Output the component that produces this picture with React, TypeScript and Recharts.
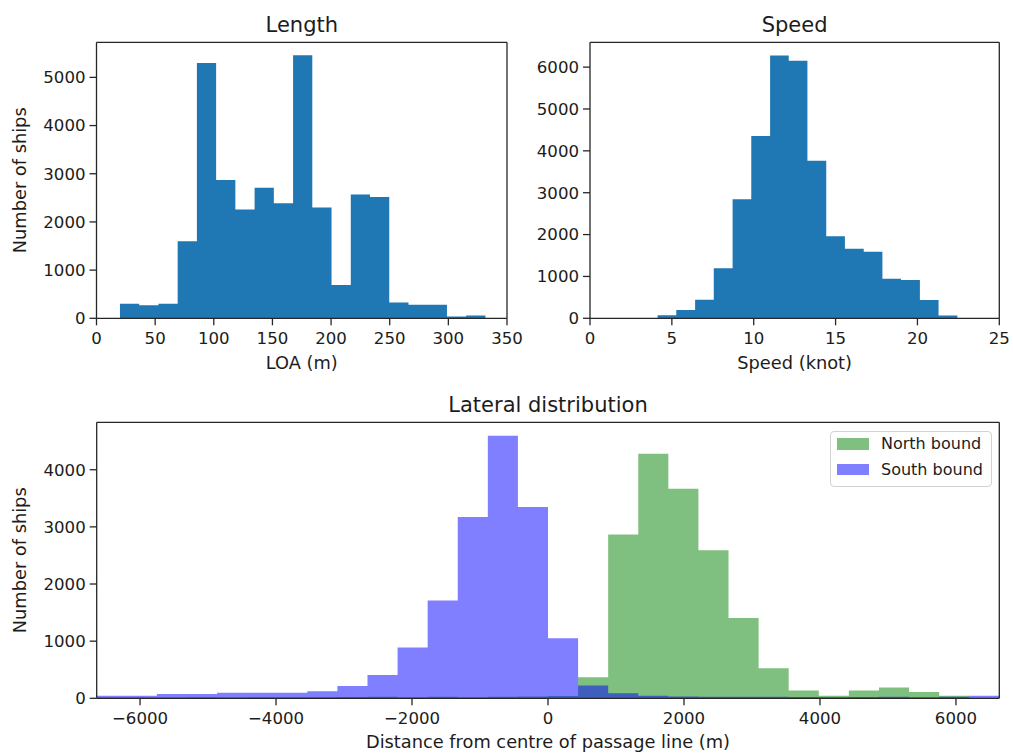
import React from 'react';
import { ComposedChart, Area, XAxis, YAxis, Legend, ReferenceLine } from 'recharts';

const FONT = '"DejaVu Sans", Verdana, sans-serif';
const TEXT = '#1c1c1c';
const SPINE = '#262626';

// ---------- Length (LOA) histogram ----------
const lengthEdges = [20, 36.4, 52.8, 69.2, 85.6, 102, 118.4, 134.8, 151.2, 167.6, 184, 200.4, 216.8, 233.2, 249.6, 266, 282.4, 298.8, 315.2, 331.6];
const lengthCounts = [300, 270, 300, 1600, 5300, 2870, 2260, 2710, 2390, 5460, 2300, 690, 2570, 2520, 330, 280, 280, 35, 60];
const lengthTicks = [0, 50, 100, 150, 200, 250, 300, 350];
const lengthCountTicks = [0, 1000, 2000, 3000, 4000, 5000];

// ---------- Speed histogram ----------
const speedEdges = [4.13, 5.27, 6.42, 7.56, 8.71, 9.85, 11.0, 12.14, 13.28, 14.43, 15.57, 16.72, 17.86, 19.0, 20.15, 21.29, 22.44];
const speedCounts = [72, 199, 446, 1194, 2841, 4353, 6279, 6152, 3764, 1958, 1663, 1592, 947, 915, 438, 64];
const speedTicks = [0, 5, 10, 15, 20, 25];
const speedCountTicks = [0, 1000, 2000, 3000, 4000, 5000, 6000];

// ---------- Lateral distribution ----------
const lateralEdges = [
  -6637.5, -6195, -5752.5, -5310, -4867.5, -4425, -3982.5, -3540, -3097.5, -2655, -2212.5,
  -1770, -1327.5, -885, -442.5, 0, 442.5, 885, 1327.5, 1770, 2212.5, 2655, 3097.5, 3540,
  3982.5, 4425, 4867.5, 5310, 5752.5, 6195, 6637.5,
];
const northCounts = [15, 12, 15, 18, 15, 20, 18, 20, 22, 25, 20, 25, 20, 25, 30, 40, 368, 2867, 4280, 3667, 2593, 1407, 525, 137, 46, 137, 187, 111, 46, 5];
const southCounts = [46, 46, 75, 75, 99, 99, 99, 125, 216, 409, 888, 1711, 3171, 4595, 3346, 1051, 222, 88, 45, 30, 28, 25, 25, 22, 20, 22, 25, 20, 25, 45];
const lateralTicks = [-6000, -4000, -2000, 0, 2000, 4000, 6000];
const lateralCountTicks = [0, 1000, 2000, 3000, 4000];

const seriesNames = ['North bound', 'South bound'];
const seriesColors = ['#008000', '#0000ff'];

const toSteps = (edges: number[], counts: number[]) =>
  edges.map((x, i) => ({ x, y: counts[Math.min(i, counts.length - 1)] }));

const lengthData = toSteps(lengthEdges, lengthCounts);
const speedData = toSteps(speedEdges, speedCounts);
const lateralData = lateralEdges.map((x, i) => ({
  x,
  north: northCounts[Math.min(i, northCounts.length - 1)],
  south: southCounts[Math.min(i, southCounts.length - 1)],
}));

const tickStyle = { fontSize: 16.6, fill: TEXT, fontFamily: FONT };
const labelStyle = { fontSize: 17.8, fill: TEXT, fontFamily: FONT };
const lineStyle = { stroke: SPINE, strokeWidth: 1.3 };
const minusFmt = (v: number) => String(v).replace('-', '\u2212');

// top and right spines of the matplotlib-style frame
const frameLines = (xMax: number, yMax: number) => [
  <ReferenceLine key="top" y={yMax} stroke={SPINE} strokeWidth={1.3} ifOverflow="visible" />,
  <ReferenceLine key="right" x={xMax} stroke={SPINE} strokeWidth={1.3} ifOverflow="visible" />,
];

const LegendBox = (props: any) => {
  const payload: any[] = props.payload || [];
  const ordered = seriesNames
    .map((n) => payload.find((p) => p.value === n))
    .filter(Boolean);
  return (
    <div
      style={{
        position: 'relative',
        width: 162,
        height: 56,
        boxSizing: 'border-box',
        border: '1px solid #d2d2d2',
        borderRadius: 4,
        background: 'rgba(255,255,255,0.8)',
        fontFamily: FONT,
        fontSize: 16,
        color: TEXT,
      }}
    >
      {ordered.map((p: any, i: number) => {
        const idx = seriesNames.indexOf(p.value);
        return (
          <React.Fragment key={p.value}>
            <div
              style={{
                position: 'absolute',
                left: 5.7,
                top: 6.6 + i * 25.5,
                width: 32.3,
                height: 11.7,
                background: seriesColors[idx],
                opacity: 0.5,
              }}
            />
            <div
              style={{
                position: 'absolute',
                left: 50,
                top: 4.8 + i * 25.3,
                lineHeight: '16px',
                whiteSpace: 'nowrap',
              }}
            >
              {p.value}
            </div>
          </React.Fragment>
        );
      })}
    </div>
  );
};

export default function App() {
  return (
    <div style={{ position: 'absolute', left: 0, top: 0, width: 1013, height: 753, overflow: 'hidden', background: '#fff' }}>
      {/* Length */}
      <div style={{ position: 'absolute', left: 0, top: 0 }}>
        <ComposedChart width={540} height={380} data={lengthData} margin={{ top: 42.3, right: 33, bottom: 1.7, left: 0 }}>
          <XAxis type="number" dataKey="x" domain={[0, 350]} ticks={lengthTicks} interval={0} allowDataOverflow
            height={60} tickSize={7} tickMargin={7} tick={tickStyle} tickLine={lineStyle} axisLine={lineStyle}
            label={{ value: 'LOA (m)', position: 'insideBottom', offset: 9, style: labelStyle }} />
          <YAxis type="number" domain={[0, 5728]} ticks={lengthCountTicks} interval={0} allowDataOverflow
            width={96.5} tickSize={7} tickMargin={4} tick={tickStyle} tickLine={lineStyle} axisLine={lineStyle}
            label={{ value: 'Number of ships', angle: -90, position: 'insideLeft', offset: 19.3, style: { ...labelStyle, textAnchor: 'middle' } }} />
          <Area type="stepAfter" dataKey="y" fill="#1f77b4" fillOpacity={1} stroke="none" dot={false} activeDot={false} isAnimationActive={false} />
          {frameLines(350, 5728)}
        </ComposedChart>
      </div>

      {/* Speed */}
      <div style={{ position: 'absolute', left: 500, top: 0 }}>
        <ComposedChart width={513} height={380} data={speedData} margin={{ top: 42.3, right: 13.7, bottom: 1.7, left: 0 }}>
          <XAxis type="number" dataKey="x" domain={[0, 25]} ticks={speedTicks} interval={0} allowDataOverflow
            height={60} tickSize={7} tickMargin={7} tick={tickStyle} tickLine={lineStyle} axisLine={lineStyle}
            label={{ value: 'Speed (knot)', position: 'insideBottom', offset: 9, style: labelStyle }} />
          <YAxis type="number" domain={[0, 6593]} ticks={speedCountTicks} interval={0} allowDataOverflow
            width={90} tickSize={7} tickMargin={4} tick={tickStyle} tickLine={lineStyle} axisLine={lineStyle} />
          <Area type="stepAfter" dataKey="y" fill="#1f77b4" fillOpacity={1} stroke="none" dot={false} activeDot={false} isAnimationActive={false} />
          {frameLines(25, 6593)}
        </ComposedChart>
      </div>

      {/* Lateral distribution */}
      <div style={{ position: 'absolute', left: 0, top: 380 }}>
        <ComposedChart width={1013} height={373} data={lateralData} margin={{ top: 42.3, right: 13.7, bottom: 2.7, left: 0 }}>
          <XAxis type="number" dataKey="x" domain={[-6637.5, 6637.5]} ticks={lateralTicks} interval={0} allowDataOverflow
            height={52} tickSize={7} tickMargin={7} tick={tickStyle} tickLine={lineStyle} axisLine={lineStyle}
            tickFormatter={minusFmt}
            label={{ value: 'Distance from centre of passage line (m)', position: 'insideBottom', offset: 2, style: labelStyle }} />
          <YAxis type="number" domain={[0, 4830]} ticks={lateralCountTicks} interval={0} allowDataOverflow
            width={96.7} tickSize={7} tickMargin={4} tick={tickStyle} tickLine={lineStyle} axisLine={lineStyle}
            label={{ value: 'Number of ships', angle: -90, position: 'insideLeft', offset: 19.3, style: { ...labelStyle, textAnchor: 'middle' } }} />
          <Area name={seriesNames[0]} type="stepAfter" dataKey="north" fill={seriesColors[0]} fillOpacity={0.5} stroke="none" dot={false} activeDot={false} isAnimationActive={false} />
          <Area name={seriesNames[1]} type="stepAfter" dataKey="south" fill={seriesColors[1]} fillOpacity={0.5} stroke="none" dot={false} activeDot={false} isAnimationActive={false} />
          {frameLines(6637.5, 4830)}
          <Legend layout="horizontal" verticalAlign="middle" align="center" content={LegendBox}
            wrapperStyle={{ position: 'absolute', left: 830, top: 50.7, width: 162, height: 56 }} />
        </ComposedChart>
      </div>

      {/* Titles */}
      <svg width={1013} height={753} style={{ position: 'absolute', left: 0, top: 0, pointerEvents: 'none' }}>
        <text x={301.8} y={31.7} textAnchor="middle" fontFamily={FONT} fontSize={21} fill={TEXT}>Length</text>
        <text x={794.6} y={31.7} textAnchor="middle" fontFamily={FONT} fontSize={21} fill={TEXT}>Speed</text>
        <text x={548} y={411.7} textAnchor="middle" fontFamily={FONT} fontSize={21} fill={TEXT}>Lateral distribution</text>
      </svg>
    </div>
  );
}
